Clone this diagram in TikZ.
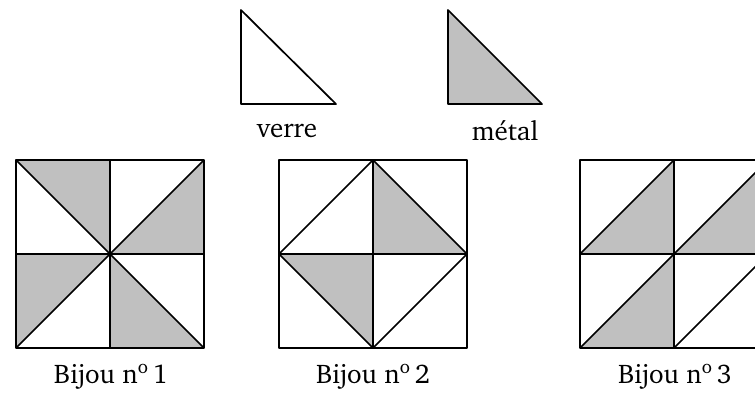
\documentclass[tikz,border=0pt]{standalone}
\usepackage[T1]{fontenc}
\usepackage{charter}
\definecolor{metalgray}{RGB}{192,192,192}
\tikzset{
  edge/.style={line width=1.7pt, line join=round},
  metal/.style={fill=metalgray},
  lab/.style={anchor=base, inner sep=0pt, font=\fontsize{27}{31}\selectfont}
}
\begin{document}
\begin{tikzpicture}[x=1pt,y=-1pt]
\useasboundingbox (0,0) rectangle (755,392);
% legend
\filldraw[edge, fill=white] (241,10) -- (241,104) -- (336,104) -- cycle;
\filldraw[edge, metal] (448,10) -- (448,104) -- (542,104) -- cycle;
\node[lab] (verre) at (287,137) {verre};
\node[lab] (metal) at (505,140) {métal};
% Bijou 1
\begin{scope}[shift={(16,160)}]
  \fill[metal] (0,0) -- (94,0) -- (94,94) -- cycle;
  \fill[metal] (94,94) -- (188,0) -- (188,94) -- cycle;
  \fill[metal] (0,94) -- (94,94) -- (0,188) -- cycle;
  \fill[metal] (94,94) -- (94,188) -- (188,188) -- cycle;
  \draw[edge] (0,0) rectangle (188,188);
  \draw[edge] (94,0) -- (94,188) (0,94) -- (188,94);
  \draw[edge] (0,0) -- (188,188) (0,188) -- (188,0);
\end{scope}
\node[lab] (b1) at (111,383) {Bijou n\textsuperscript{o}\,1};
% Bijou 2
\begin{scope}[shift={(279,160)}]
  \fill[metal] (94,0) -- (94,94) -- (188,94) -- cycle;
  \fill[metal] (0,94) -- (94,94) -- (94,188) -- cycle;
  \draw[edge] (0,0) rectangle (188,188);
  \draw[edge] (94,0) -- (94,188) (0,94) -- (188,94);
  \draw[edge] (94,0) -- (188,94) -- (94,188) -- (0,94) -- cycle;
\end{scope}
\node[lab] (b2) at (373,383) {Bijou n\textsuperscript{o}\,2};
% Bijou 3
\begin{scope}[shift={(580,160)}]
  \fill[metal] (0,94) -- (94,0) -- (94,94) -- cycle;
  \fill[metal] (94,94) -- (188,0) -- (188,94) -- cycle;
  \fill[metal] (0,188) -- (94,94) -- (94,188) -- cycle;
  \draw[edge] (0,0) rectangle (188,188);
  \draw[edge] (94,0) -- (94,188) (0,94) -- (188,94);
  \draw[edge] (0,94) -- (94,0) (94,94) -- (188,0);
  \draw[edge] (0,188) -- (94,94) (94,188) -- (188,94);
\end{scope}
\node[lab] (b3) at (675,383) {Bijou n\textsuperscript{o}\,3};
\end{tikzpicture}
\end{document}
